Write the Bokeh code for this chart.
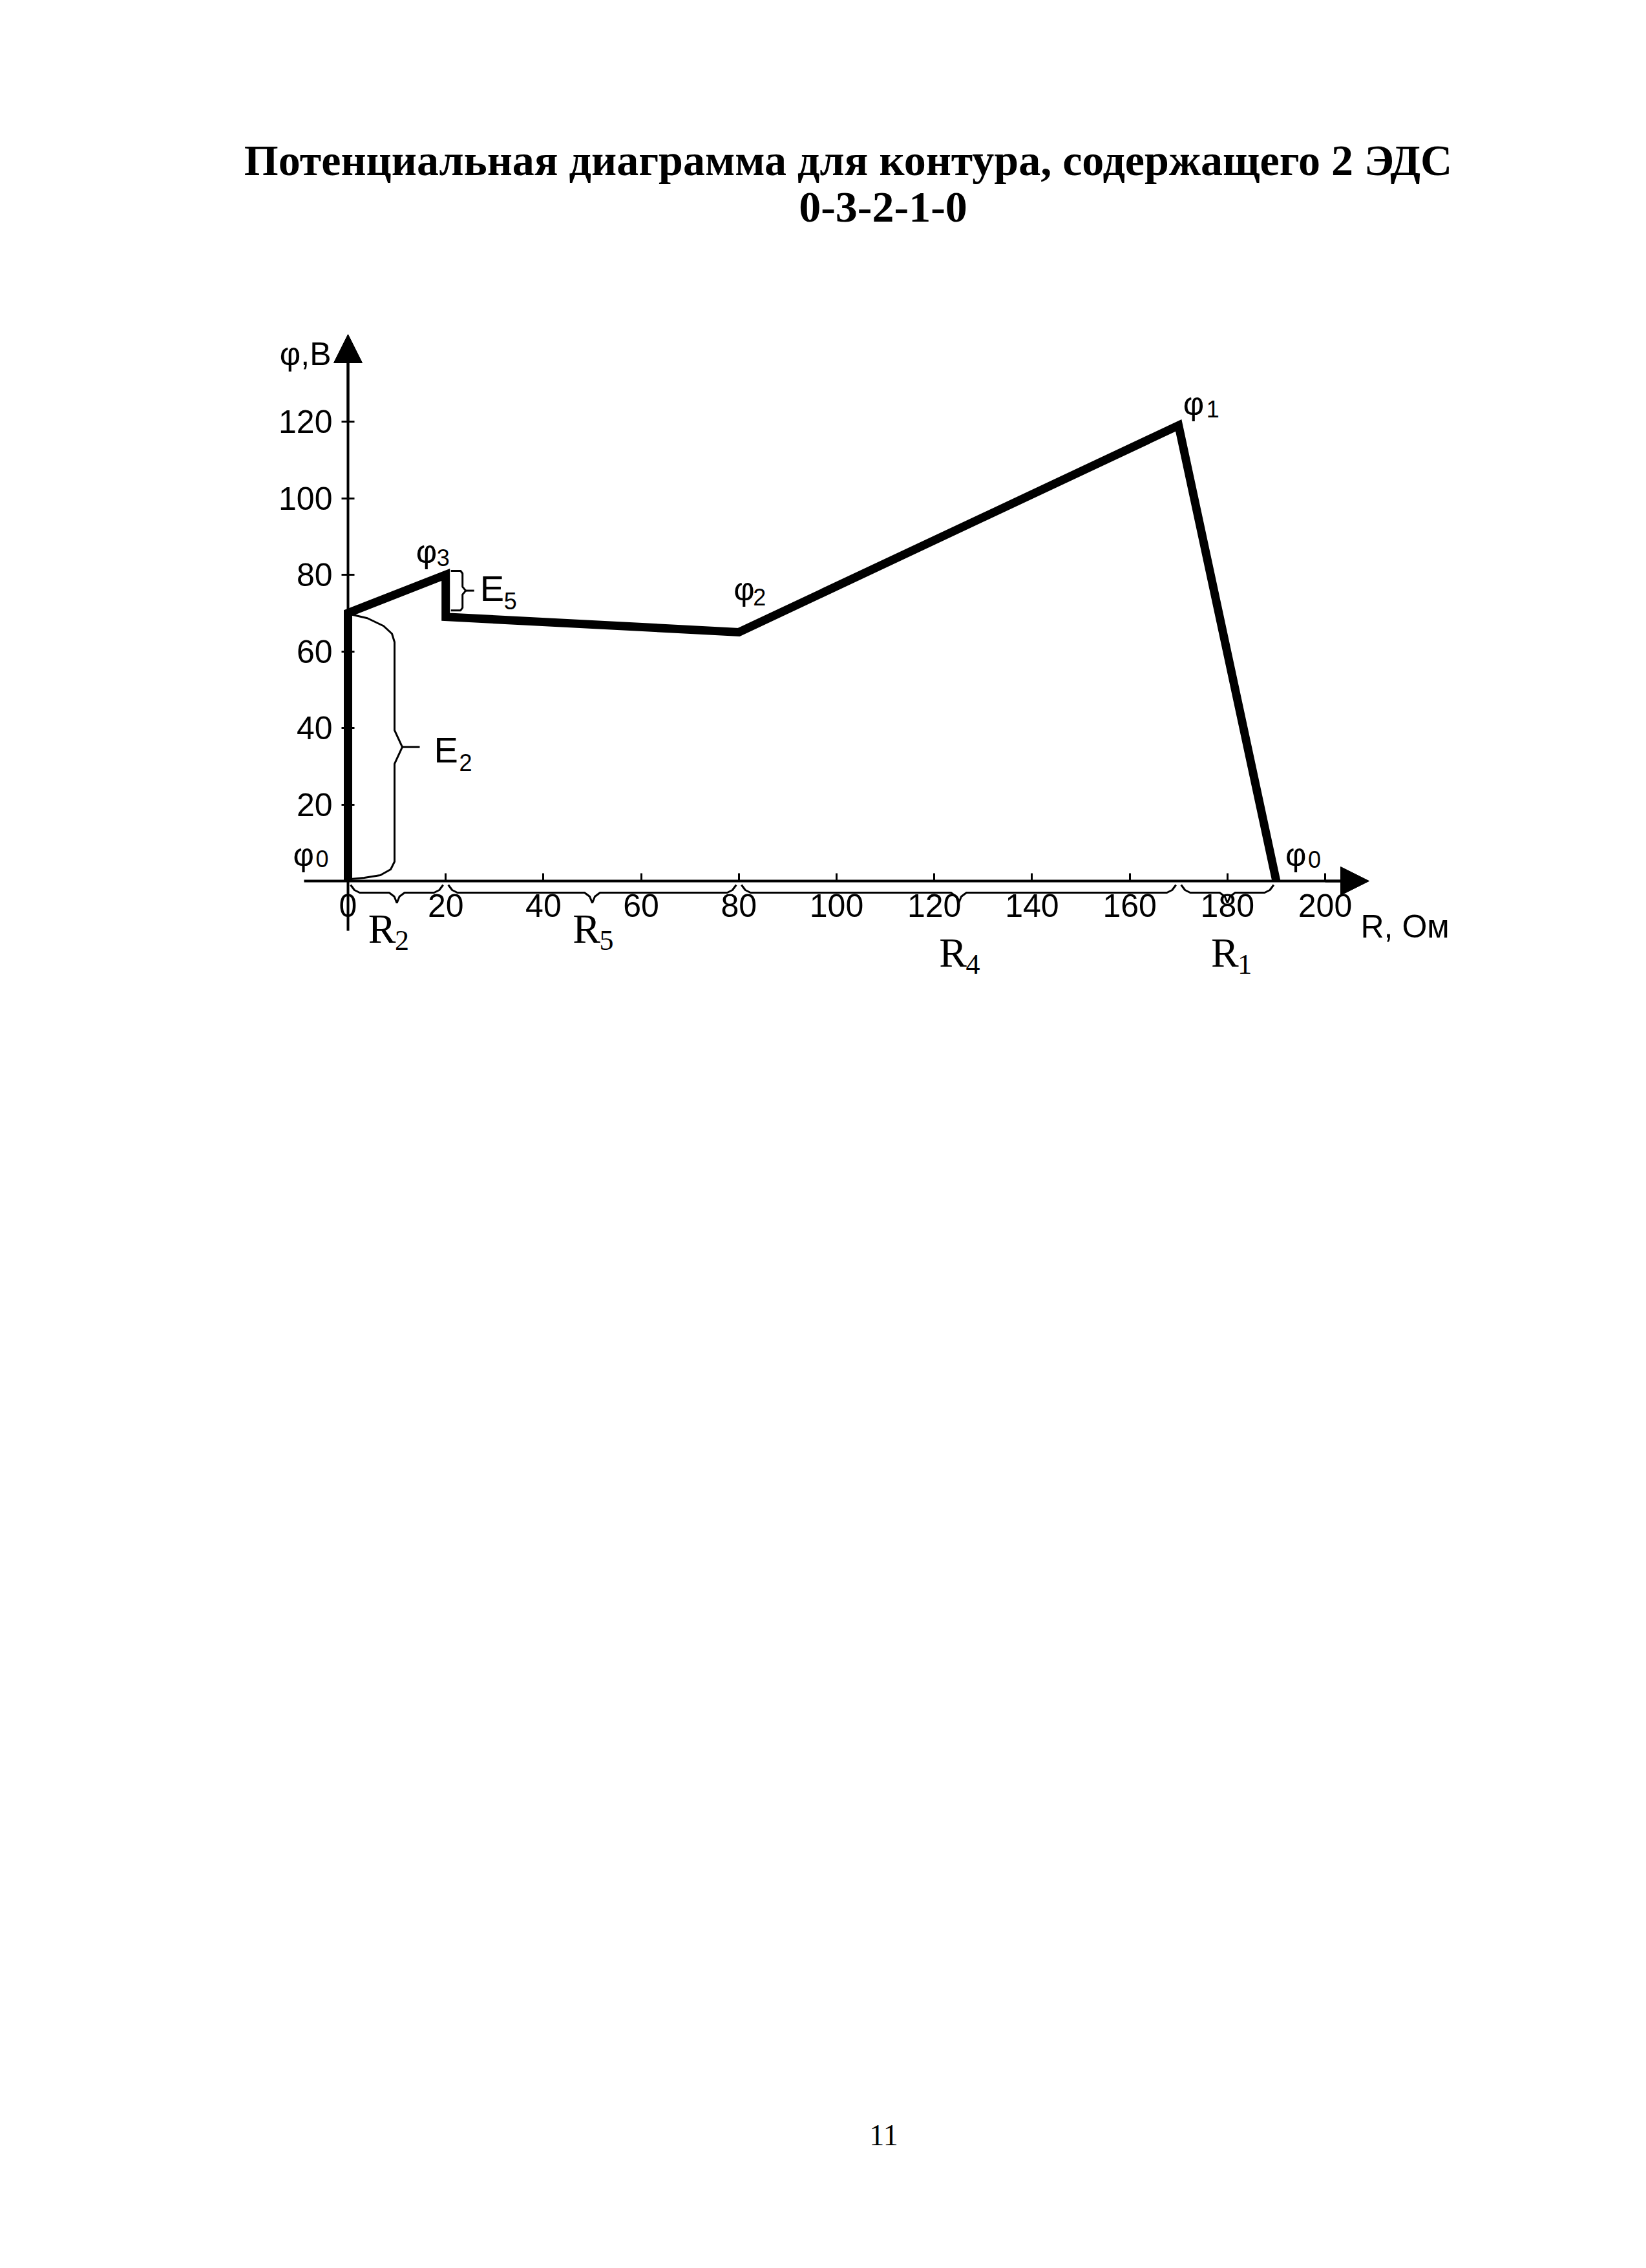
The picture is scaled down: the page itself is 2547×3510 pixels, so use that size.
from bokeh.plotting import figure
from bokeh.models import Range1d, FixedTicker, Arrow, NormalHead
from bokeh.core.properties import value
from bokeh.embed import file_html
from bokeh.resources import INLINE

# ---------------- data ----------------
R_points = [0, 0, 20, 20, 80, 170, 190]          # R, Ом
phi_points = [0, 70, 80, 69, 65, 119, 0]         # φ, В
x_ticks = [0, 20, 40, 60, 80, 100, 120, 140, 160, 180, 200]
y_ticks = [20, 40, 60, 80, 100, 120]
point_names = ["0", "3", "2", "1", "0"]          # φ subscripts
point_index = [0, 2, 4, 5, 6]                    # which data point each φ label belongs to
resistor_spans = [(0, 20), (20, 80), (80, 170), (170, 190)]
resistor_names = ["2", "5", "4", "1"]
emf_names = ["2", "5"]
emf_spans = [(0, 0, 70), (20, 69, 80)]           # (R, φ low, φ high)
title_line1 = "Потенциальная диаграмма для контура, содержащего 2 ЭДС"
title_line2 = "0-3-2-1-0"
x_axis_label = "R, Ом"
y_axis_label = "φ,В"
page_number = "11"

# ---------------- layout ----------------
W, H = 2531, 3494
ML, MR, MT, MB = 200, 16, 40, 150
FW, FH = W - ML - MR, H - MT - MB
OFF = 0
X0_PX, X200_PX = 538.0, 2050.0
Y0_PX, Y120_PX = 1363.0, 652.0
SX = (X200_PX - X0_PX) / 200.0
SY = (Y0_PX - Y120_PX) / 120.0


def X(px):
    return (px - X0_PX) / SX


def Y(py):
    return (Y0_PX - py) / SY


def ox(d):
    return d / SX


def oy(d):  # d: pixels downward
    return -d / SY


fl, fr = OFF + ML, OFF + ML + FW
ft, fb = OFF + MT, OFF + MT + FH

p = figure(frame_width=FW, frame_height=FH,
           min_border_left=ML, min_border_right=MR,
           min_border_top=MT, min_border_bottom=MB,
           x_range=Range1d(X(fl), X(fr)), y_range=Range1d(Y(fb), Y(ft)),
           output_backend="svg", toolbar_location=None)
p.background_fill_color = "white"
p.border_fill_color = "white"
p.outline_line_color = None
p.grid.visible = False

SANS = "Liberation Sans"
SERIF = "Liberation Serif"

# axes
for ax in (p.xaxis[0], p.yaxis[0]):
    ax.fixed_location = 0
    ax.axis_line_width = 4
    ax.axis_line_color = "black"
    ax.major_tick_line_width = 3
    ax.major_tick_line_color = "black"
    ax.minor_tick_line_color = None
    ax.major_label_text_font = SANS
    ax.major_label_text_font_size = "50px"
    ax.major_label_text_color = "black"

p.xaxis.ticker = FixedTicker(ticks=x_ticks)
p.yaxis.ticker = FixedTicker(ticks=y_ticks)
p.xaxis.major_tick_in = 12
p.xaxis.major_tick_out = 0
p.xaxis.major_label_standoff = 20
p.yaxis.major_tick_in = 10
p.yaxis.major_tick_out = 10
p.yaxis.major_label_standoff = 14

x_tip = X(2118)
y_tip = Y(517)
p.xaxis.bounds = (X(470), x_tip - ox(30))
p.yaxis.bounds = (Y(1440), y_tip - oy(-30))

p.add_layout(Arrow(end=NormalHead(size=44, fill_color="black", line_color="black"),
                   x_start=x_ticks[-1], y_start=0, x_end=x_tip, y_end=0,
                   line_width=4, line_color="black"))
p.add_layout(Arrow(end=NormalHead(size=44, fill_color="black", line_color="black"),
                   x_start=0, y_start=y_ticks[-1], x_end=0, y_end=y_tip,
                   line_width=4, line_color="black"))

# main potential line
p.line(R_points, phi_points, line_width=13, line_color="black", line_join="miter")


def txt(x, y, s, font, size, align="left", baseline="middle", style="normal"):
    p.text(x=[x], y=[y], text=[s], text_font=value(font),
           text_font_size=value(f"{size}px"), text_align=align,
           text_baseline=baseline, text_font_style=style, text_color="black")


# titles and page number
txt(X(1312), Y(247), title_line1, SERIF, 68, "center", "alphabetic", "bold")
txt(X(1366), Y(320), title_line2, SERIF, 68, "center", "alphabetic", "bold")
txt(X(1367), Y(3304), page_number, SERIF, 46, "center", "alphabetic")

# axis labels
txt(0 + ox(-26), y_tip + oy(30), y_axis_label, SANS, 50, "right", "alphabetic")
txt(x_ticks[-1] + ox(55), oy(70), x_axis_label, SANS, 50, "left", "alphabetic")

# φ labels: (main dx, main dy, sub dx, sub dy) in px
phi_offsets = [(-85, -41, -50, -35), (-46, -36, -14, -27), (-8, -66, 22, -54),
               (7, -33, 43, -25), (14, -41, 49, -34)]
for name, idx, (mdx, mdy, sdx, sdy) in zip(point_names, point_index, phi_offsets):
    x, y = R_points[idx], phi_points[idx]
    txt(x + ox(mdx), y + oy(mdy), "φ", SANS, 50)
    txt(x + ox(sdx), y + oy(sdy), name, SANS, 36)

# resistor braces under the x-axis
r_label_offsets = [(-23, 74), (-9, 74), (-9, 111), (-4, 111)]
for (a, b), name, (ldx, ldy) in zip(resistor_spans, resistor_names, r_label_offsets):
    m = (a + b) / 2.0
    pts = [(a, 4, 6), (a, 10, 14), (a, 18, 18), (m, -12, 18), (m, -4, 24), (m, 0, 34),
           (m, 4, 24), (m, 12, 18), (b, -18, 18), (b, -10, 14), (b, -4, 6)]
    p.line([bx + ox(dx) for bx, dx, dy in pts], [oy(dy) for bx, dx, dy in pts],
           line_width=3, line_color="black")
    txt(m + ox(ldx), oy(ldy), "R", SERIF, 64, "center")
    txt(m + ox(ldx + 20), oy(ldy + 18), name, SERIF, 44)

# E2 brace (vertical, right of the axis)
(r0, lo0, hi0) = emf_spans[0]
mid0 = (lo0 + hi0) / 2.0
bp = [(4, hi0, 2), (30, hi0, 8), (55, hi0, 20), (68, hi0, 32), (72, hi0, 45),
      (72, mid0, -26), (84, mid0, 0), (72, mid0, 26), (72, lo0, -30), (66, lo0, -18),
      (50, lo0, -9), (25, lo0, -5), (4, lo0, -3)]
p.line([r0 + ox(dx) for dx, v, dy in bp], [v + oy(dy) for dx, v, dy in bp],
       line_width=3, line_color="black")
p.line([r0 + ox(84), r0 + ox(111)], [mid0, mid0], line_width=3, line_color="black")
txt(r0 + ox(133), mid0 + oy(4), "E", SANS, 56)
txt(r0 + ox(172), mid0 + oy(24), emf_names[0], SANS, 36)

# E5 bracket
(r1, lo1, hi1) = emf_spans[1]
mid1 = (lo1 + hi1) / 2.0
bp5 = [(8, hi1, -6), (23, hi1, -6), (26, hi1, -2), (26, mid1, -14), (31, mid1, -8),
       (26, mid1, -2), (26, lo1, -14), (23, lo1, -10), (8, lo1, -10)]
p.line([r1 + ox(dx) for dx, v, dy in bp5], [v + oy(dy) for dx, v, dy in bp5],
       line_width=3, line_color="black")
p.line([r1 + ox(31), r1 + ox(44)], [mid1 + oy(-8), mid1 + oy(-8)], line_width=3, line_color="black")
txt(r1 + ox(53), mid1 + oy(-12), "E", SANS, 56)
txt(r1 + ox(90), mid1 + oy(8), emf_names[1], SANS, 36)

open("out.html", "w").write(file_html(p, INLINE))
